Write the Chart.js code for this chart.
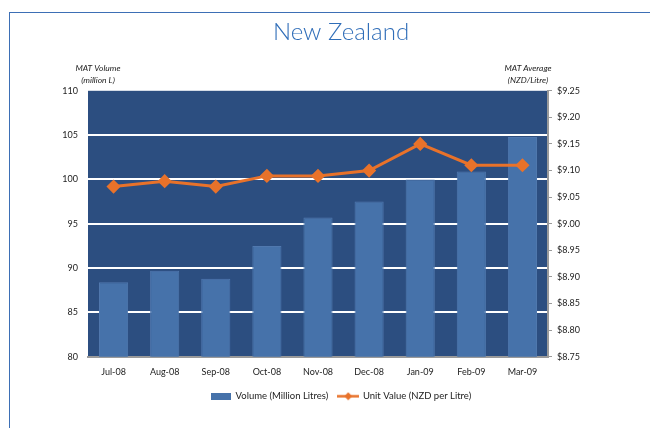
<!DOCTYPE html>
<html>
<head>
    <title>New Zealand</title>
    <style>
        body { margin: 0; background: #ffffff; }
        .wrap { position: relative; width: 650px; height: 428px; overflow: hidden; }
        .frame {
            position: absolute;
            left: 9px;
            top: 12px;
            width: 700px;
            height: 500px;
            border-left: 1.5px solid #3d6fb5;
            border-top: 1.5px solid #3d6fb5;
        }
        canvas { position: absolute; left: 0; top: 0; }
    </style>
</head>
<body>
    <div class="wrap">
        <div class="frame"></div>
        <canvas id="chartNZ" width="650" height="428"></canvas>
    </div>

    <script src="https://cdn.jsdelivr.net/npm/chart.js"></script>
    <script>
        const months = ['Jul-08', 'Aug-08', 'Sep-08', 'Oct-08', 'Nov-08', 'Dec-08', 'Jan-09', 'Feb-09', 'Mar-09'];
        // MAT volume, million litres (left axis)
        const volume = [88.4, 89.7, 88.8, 92.5, 95.7, 97.5, 100.0, 100.9, 104.8];
        // MAT average unit value, NZD per litre (right axis)
        const unitValue = [9.07, 9.08, 9.07, 9.09, 9.09, 9.10, 9.15, 9.11, 9.11];

        const barColor = '#4672aa';
        const lineColor = '#e8722a';
        const plotBg = '#2c4e80';
        const fontFamily = 'Lato, "Open Sans", sans-serif';

        // little legend swatches like the Excel ones
        function makeBarSwatch() {
            const c = document.createElement('canvas');
            c.width = 20; c.height = 7;
            const g = c.getContext('2d');
            g.fillStyle = barColor;
            g.fillRect(0, 0, 20, 7);
            return c;
        }

        function makeLineSwatch() {
            const c = document.createElement('canvas');
            c.width = 22; c.height = 9;
            const g = c.getContext('2d');
            g.strokeStyle = lineColor;
            g.lineWidth = 2.5;
            g.beginPath(); g.moveTo(0, 4.5); g.lineTo(22, 4.5); g.stroke();
            g.fillStyle = lineColor;
            g.beginPath();
            g.moveTo(11, 0.5); g.lineTo(15, 4.5); g.lineTo(11, 8.5); g.lineTo(7, 4.5);
            g.closePath(); g.fill();
            return c;
        }

        const plotBackground = {
            id: 'plotBackground',
            beforeDraw(chart) {
                const a = chart.chartArea;
                const ctx = chart.ctx;
                ctx.save();
                ctx.fillStyle = plotBg;
                ctx.fillRect(a.left, a.top, a.right - a.left, a.bottom - a.top);
                ctx.restore();
            }
        };

        const axisTitles = {
            id: 'axisTitles',
            afterDraw(chart) {
                const a = chart.chartArea;
                const ctx = chart.ctx;
                ctx.save();
                ctx.fillStyle = '#222';
                ctx.font = 'italic 8.5px ' + fontFamily;
                ctx.textAlign = 'center';
                ctx.textBaseline = 'middle';
                ctx.fillText('MAT Volume', a.left + 10, a.top - 23);
                ctx.fillText('(million L)', a.left + 10, a.top - 11);
                ctx.fillText('MAT Average', a.right - 20, a.top - 23);
                ctx.fillText('(NZD/Litre)', a.right - 20, a.top - 11);
                ctx.restore();
            }
        };

        const barSwatch = makeBarSwatch();
        const lineSwatch = makeLineSwatch();

        new Chart(document.getElementById('chartNZ'), {
            type: 'bar',
            data: {
                labels: months,
                datasets: [
                    {
                        type: 'bar',
                        label: 'Volume (Million Litres)',
                        data: volume,
                        yAxisID: 'y',
                        backgroundColor: barColor,
                        borderColor: '#5078ae',
                        borderWidth: 1,
                        barPercentage: 0.57,
                        categoryPercentage: 1,
                        order: 2
                    },
                    {
                        type: 'line',
                        label: 'Unit Value (NZD per Litre)',
                        data: unitValue,
                        yAxisID: 'y1',
                        borderColor: lineColor,
                        backgroundColor: lineColor,
                        borderWidth: 3,
                        pointStyle: 'rectRot',
                        pointRadius: 5,
                        tension: 0,
                        order: 1
                    }
                ]
            },
            options: {
                responsive: false,
                animation: false,
                layout: { padding: { left: 32, right: 0, top: 0, bottom: 17 } },
                scales: {
                    x: {
                        grid: { display: false },
                        border: { display: true, color: '#9a9a9a', width: 2 },
                        ticks: { color: '#222', font: { family: fontFamily, size: 9 }, padding: 2, maxRotation: 0 },
                        afterFit(scale) { scale.height += 2; }
                    },
                    y: {
                        position: 'left',
                        min: 80,
                        max: 110,
                        ticks: { stepSize: 5, color: '#222', font: { family: fontFamily, size: 9 }, padding: 10 },
                        grid: {
                            drawTicks: false,
                            lineWidth: 2,
                            color: (c) => (c.tick && (c.tick.value === 80 || c.tick.value === 110)) ? 'rgba(0,0,0,0)' : '#ffffff'
                        },
                        border: { display: false },
                        afterFit(scale) { scale.width = 56; }
                    },
                    y1: {
                        position: 'right',
                        min: 8.75,
                        max: 9.25,
                        ticks: {
                            stepSize: 0.05,
                            color: '#222',
                            font: { family: fontFamily, size: 9 },
                            padding: 5,
                            callback: (v) => '$' + Number(v).toFixed(2)
                        },
                        grid: { drawOnChartArea: false, drawTicks: true, tickLength: 4, color: '#9a9a9a', lineWidth: 1 },
                        border: { display: true, color: '#9a9a9a', width: 2 },
                        afterFit(scale) { scale.width = 102; }
                    }
                },
                plugins: {
                    title: {
                        display: true,
                        text: 'New Zealand',
                        color: '#2f6db8',
                        font: { family: fontFamily, size: 24, weight: '300' },
                        padding: { top: 18, bottom: 44 }
                    },
                    legend: {
                        position: 'bottom',
                        labels: {
                            color: '#222',
                            font: { family: fontFamily, size: 9.5 },
                            usePointStyle: true,
                            pointStyleWidth: 20,
                            boxHeight: 8,
                            padding: 10,
                            generateLabels(chart) {
                                const items = Chart.defaults.plugins.legend.labels.generateLabels(chart);
                                items.forEach((it) => {
                                    it.pointStyle = it.datasetIndex === 0 ? barSwatch : lineSwatch;
                                });
                                return items.sort((a, b) => a.datasetIndex - b.datasetIndex);
                            }
                        }
                    },
                    tooltip: { enabled: false }
                }
            },
            plugins: [plotBackground, axisTitles]
        });
    </script>
</body>
</html>
